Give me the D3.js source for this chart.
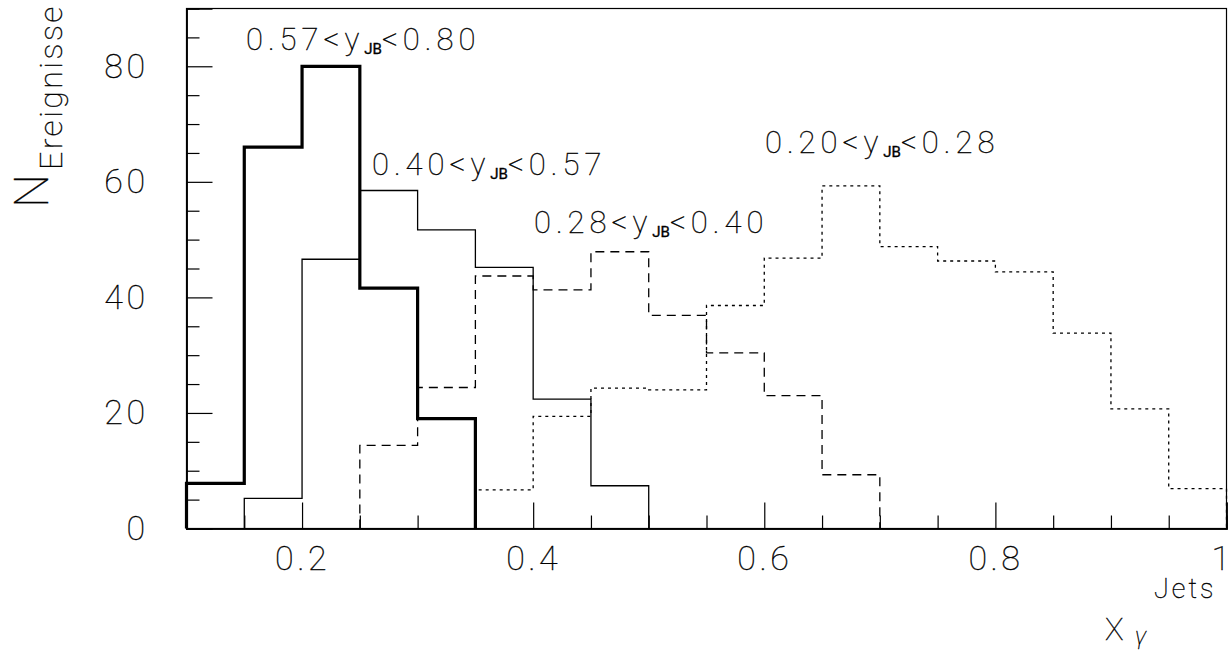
<!DOCTYPE html>
<html>
<head>
<meta charset="utf-8">
<script src="https://cdn.jsdelivr.net/npm/d3@7/dist/d3.min.js"></script>
<style>
  html, body { margin: 0; padding: 0; background: #fff; }
  svg { display: block; }
  text { font-family: Roboto, "DejaVu Sans", sans-serif; font-weight: 100; fill: #000; stroke: #000; stroke-width: 0.35px; }
</style>
</head>
<body>
<svg id="chart" width="1231" height="651"></svg>
<script>
// Histogram bin width in x_gamma
const binWidth = 0.05;

// Event counts per bin for the four y_JB ranges (each starts at its first bin edge)
const startHigh = 0.10;     // 0.57 < y_JB < 0.80
const countsHigh = [7.8, 66.0, 80.0, 41.6, 19.0];

const startMidHigh = 0.15;  // 0.40 < y_JB < 0.57
const countsMidHigh = [5.2, 46.6, 58.5, 51.7, 45.2, 22.4, 7.4];

const startMidLow = 0.25;   // 0.28 < y_JB < 0.40
const countsMidLow = [14.4, 24.4, 43.7, 41.3, 47.9, 36.9, 30.4, 23.0, 9.3];

const startLow = 0.35;      // 0.20 < y_JB < 0.28
const countsLow = [6.7, 19.4, 24.3, 24.0, 38.6, 46.8, 59.3, 48.8, 46.3, 44.4, 33.8, 20.7, 6.9];

// Range labels: [lower, upper]
const rangeHigh = ["0.57", "0.80"];
const rangeMidHigh = ["0.40", "0.57"];
const rangeMidLow = ["0.28", "0.40"];
const rangeLow = ["0.20", "0.28"];

// Axis ticks
const xMajorTicks = [0.2, 0.4, 0.6, 0.8, 1.0];
const xTickLabels = ["0.2", "0.4", "0.6", "0.8", "1"];
const yMajorTicks = [0, 20, 40, 60, 80];
const yTickLabels = ["0", "20", "40", "60", "80"];

const svg = d3.select("#chart");
const W = 1231, H = 651;
const margin = { left: 186.5, right: W - 1226.5, top: 8.5, bottom: H - 528.5 };

const x = d3.scaleLinear().domain([0.1, 1.0]).range([margin.left, W - margin.right]);
const y = d3.scaleLinear().domain([0, 90]).range([H - margin.bottom, margin.top]);

// Frame
svg.append("rect")
  .attr("x", x(0.1)).attr("y", y(90))
  .attr("width", x(1.0) - x(0.1)).attr("height", y(0) - y(90))
  .attr("fill", "none").attr("stroke", "#000").attr("stroke-width", 1.2);

// Minor ticks every 0.05 on x, every 5 on y
const xMinor = d3.range(0.15, 1.0001, 0.05).map(v => +v.toFixed(2)).filter(v => !xMajorTicks.some(m => Math.abs(m - v) < 1e-6));
const yMinor = d3.range(5, 90, 5).filter(v => v % 20 !== 0);

const gx = svg.append("g").attr("transform", `translate(0,${y(0)})`);
gx.call(d3.axisBottom(x).tickValues(xMinor).tickSize(-13).tickFormat(""));
gx.append("g").call(d3.axisBottom(x).tickValues(xMajorTicks).tickSize(-26).tickPadding(17)
  .tickFormat((d, i) => xTickLabels[i]));
gx.selectAll(".domain").attr("stroke", "#000").attr("stroke-width", 1.5);
gx.selectAll("line").attr("stroke", "#000").attr("stroke-width", 1.2);
gx.selectAll("text").style("font-size", "34px").style("letter-spacing", "3.5px").attr("fill", "#000");
// keep the last label inside the drawing
gx.selectAll(".tick text").filter(d => d === 1.0)
  .attr("text-anchor", "end").attr("dx", 3).style("letter-spacing", "0px");

const gy = svg.append("g").attr("transform", `translate(${x(0.1)},0)`);
gy.call(d3.axisLeft(y).tickValues(yMinor).tickSize(-13).tickFormat(""));
gy.append("g").call(d3.axisLeft(y).tickValues(yMajorTicks).tickSize(-26).tickPadding(38)
  .tickFormat((d, i) => yTickLabels[i]));
gy.selectAll(".domain").attr("stroke", "#000").attr("stroke-width", 1.5);
gy.selectAll("line").attr("stroke", "#000").attr("stroke-width", 1.2);
gy.selectAll("text").style("font-size", "34px").style("letter-spacing", "3.5px").attr("fill", "#000");

// Step outline of a histogram, closed down to zero at both ends
function stepPoints(start, counts) {
  const pts = [[start, 0]];
  counts.forEach((c, i) => {
    const lo = start + i * binWidth, hi = start + (i + 1) * binWidth;
    pts.push([lo, c], [hi, c]);
  });
  pts.push([start + counts.length * binWidth, 0]);
  return pts;
}
const line = d3.line().x(d => x(d[0])).y(d => y(d[1]));

const hists = [
  { start: startLow, counts: countsLow, width: 1.3, dash: "3,4" },
  { start: startMidLow, counts: countsMidLow, width: 1.3, dash: "9,6" },
  { start: startMidHigh, counts: countsMidHigh, width: 1.3, dash: null },
  { start: startHigh, counts: countsHigh, width: 3.2, dash: null }
];
svg.append("g").selectAll("path").data(hists).join("path")
  .attr("d", d => line(stepPoints(d.start, d.counts)))
  .attr("fill", "none").attr("stroke", "#000")
  .attr("stroke-width", d => d.width)
  .attr("stroke-dasharray", d => d.dash)
  .attr("stroke-linejoin", "miter");

// Range annotations
function rangeLabel(px, py, range) {
  const t = svg.append("text").attr("x", px).attr("y", py)
    .style("font-size", "31px").style("letter-spacing", "5px");
  t.append("tspan").text(range[0] + "<y");
  t.append("tspan").text("JB").style("font-size", "15px").style("font-weight", 400)
    .style("letter-spacing", "0px").attr("dy", 4);
  t.append("tspan").text("<" + range[1]).attr("dy", -4);
}
rangeLabel(246, 50, rangeHigh);
rangeLabel(372, 175, rangeMidHigh);
rangeLabel(534, 233, rangeMidLow);
rangeLabel(765, 153, rangeLow);

// Y axis title
const yt = svg.append("text").attr("transform", "translate(48,208) rotate(-90)");
yt.append("tspan").text("N").style("font-size", "48px");
yt.append("tspan").text("Ereignisse").style("font-size", "32px").style("letter-spacing", "2.5px").attr("dx", 4).attr("dy", 14);

// X axis title
svg.append("text").attr("x", 1105).attr("y", 640).style("font-size", "31px").text("X");
svg.append("text").attr("x", 1135).attr("y", 644).style("font-size", "24px").style("font-style", "italic").text("γ");
svg.append("text").attr("x", 1154).attr("y", 598).style("font-size", "27px").style("letter-spacing", "3px").text("Jets");
</script>
</body>
</html>
